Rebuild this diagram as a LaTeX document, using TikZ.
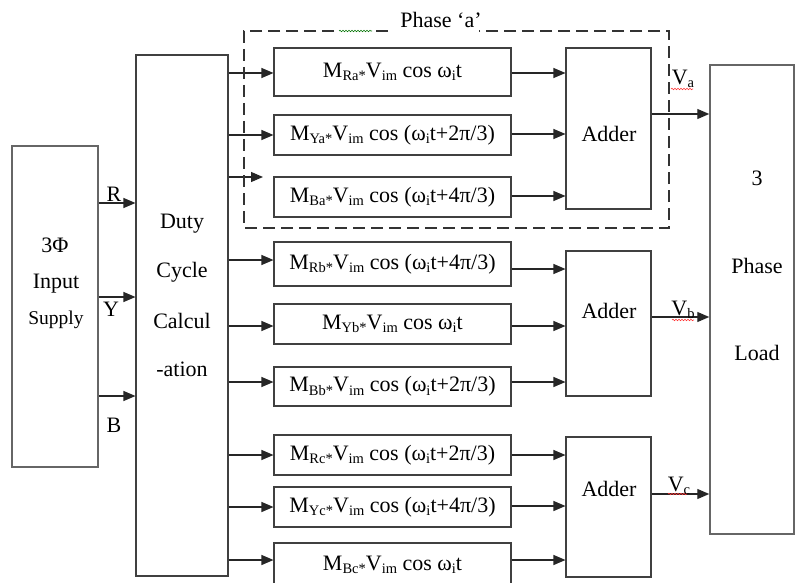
\documentclass[tikz,border=0pt]{standalone}
\usepackage{fontspec}
\setmainfont{Liberation Serif}
\usetikzlibrary{arrows.meta,decorations.pathmorphing}

% lowered, smaller text for indices
\newcommand\lo[1]{\raisebox{-3.7pt}{\fontsize{14.5}{14.5}\selectfont #1}}

\tikzset{
  blk/.style={draw=black!75, line width=1.1pt, inner sep=0pt, fill=white,
    font=\fontsize{22}{22}\selectfont},
  bigblk/.style={blk, draw=black!60, line width=1.5pt},
  frm/.style={blk, minimum width=237pt},
  addblk/.style={blk, minimum width=85pt},
  arr/.style={draw=black!85, line width=1.2pt, -{Triangle[length=12pt,width=10pt]}},
  lbl/.style={inner sep=0pt, font=\fontsize{22}{22}\selectfont},
  spell/.style={decorate, decoration={snake, amplitude=0.7pt, segment length=3pt}, line width=0.6pt},
  phasebox/.style={draw=black!80, line width=1.1pt, dash pattern=on 12pt off 6pt}
}

\begin{document}
\begin{tikzpicture}[x=1pt,y=-1pt]
\useasboundingbox (0,0) rectangle (795,583);
\clip (0,0) rectangle (795,583);
\fill[white] (0,0) rectangle (795,583);

% source, duty-cycle block and load
\node[bigblk, minimum width=86pt, minimum height=321pt] (inp) at (55,306.5) {};
\node[blk, minimum width=92pt, minimum height=521pt] (duty) at (182,315.5) {};
\node[bigblk, minimum width=84pt, minimum height=469pt] (load) at (752,299.5) {};

\node[lbl] (t3phi) at (55,245) {3Φ};
\node[lbl] (tinput) at (56,284) {Input};
\node[lbl, font=\fontsize{19.5}{19.5}\selectfont] (tsupply) at (56,320) {Supply};

\node[lbl] (tduty) at (182,224) {Duty};
\node[lbl] (tcycle) at (182,272) {Cycle};
\node[lbl] (tcalc) at (182,321) {Calcul};
\node[lbl] (tation) at (182,369) {-ation};

\node[lbl] (tl3) at (757,178) {3};
\node[lbl] (tlphase) at (757,266) {Phase};
\node[lbl] (tlload) at (757,353) {Load};

% modulated reference blocks
\node[frm, minimum height=48pt] (fa1) at (392.5,72) {M\lo{Ra*}V\lo{im} cos ω\lo{i}t};
\node[frm, minimum height=40pt] (fa2) at (392.5,135) {M\lo{Ya*}V\lo{im} cos (ω\lo{i}t+2π/3)};
\node[frm, minimum height=40pt] (fa3) at (392.5,197) {M\lo{Ba*}V\lo{im} cos (ω\lo{i}t+4π/3)};
\node[frm, minimum height=44pt] (fb1) at (392.5,264) {M\lo{Rb*}V\lo{im} cos (ω\lo{i}t+4π/3)};
\node[frm, minimum height=40pt] (fb2) at (392.5,324) {M\lo{Yb*}V\lo{im} cos ω\lo{i}t};
\node[frm, minimum height=39pt] (fb3) at (392.5,386.5) {M\lo{Bb*}V\lo{im} cos (ω\lo{i}t+2π/3)};
\node[frm, minimum height=40pt] (fc1) at (392.5,455) {M\lo{Rc*}V\lo{im} cos (ω\lo{i}t+2π/3)};
\node[frm, minimum height=40pt] (fc2) at (392.5,507) {M\lo{Yc*}V\lo{im} cos (ω\lo{i}t+4π/3)};
\node[frm, minimum height=47pt] (fc3) at (392.5,566.5) {};
\node[lbl] (tfc3) at (392.5,565) {M\lo{Bc*}V\lo{im} cos ω\lo{i}t};

% adders
\node[addblk, minimum height=161pt] (adA) at (608.5,128.5) {};
\node[addblk, minimum height=145pt] (adB) at (608.5,323.5) {};
\node[addblk, minimum height=140pt] (adC) at (608.5,507) {};
\node[lbl] (tadA) at (609,134) {Adder};
\node[lbl] (tadB) at (609,311) {Adder};
\node[lbl] (tadC) at (609,489) {Adder};

% phase lines R, Y, B
\draw[arr] (inp.east |- 0,203) -- (duty.west |- 0,203);
\draw[arr] (inp.east |- 0,297) -- (duty.west |- 0,297);
\draw[arr] (inp.east |- 0,396) -- (duty.west |- 0,396);
\node[lbl] (tR) at (114,194) {R};
\node[lbl] (tY) at (111,309) {Y};
\node[lbl] (tB) at (114,425) {B};

% duty-cycle outputs
\coordinate (fa3in) at (263,177);
\draw[arr] (duty.east |- 0,73) -- (fa1.west |- 0,73);
\draw[arr] (duty.east |- 0,135) -- (fa2.west |- 0,135);
\draw[arr] (duty.east |- fa3in) -- (fa3in);
\draw[arr] (duty.east |- 0,260) -- (fb1.west |- 0,260);
\draw[arr] (duty.east |- 0,326) -- (fb2.west |- 0,326);
\draw[arr] (duty.east |- 0,382) -- (fb3.west |- 0,382);
\draw[arr] (duty.east |- 0,455) -- (fc1.west |- 0,455);
\draw[arr] (duty.east |- 0,507) -- (fc2.west |- 0,507);
\draw[arr] (duty.east |- 0,560) -- (fc3.west |- 0,560);

% into the adders
\draw[arr] (fa1.east |- 0,73) -- (adA.west |- 0,73);
\draw[arr] (fa2.east |- 0,134) -- (adA.west |- 0,134);
\draw[arr] (fa3.east |- 0,196) -- (adA.west |- 0,196);
\draw[arr] (fb1.east |- 0,269) -- (adB.west |- 0,269);
\draw[arr] (fb2.east |- 0,326) -- (adB.west |- 0,326);
\draw[arr] (fb3.east |- 0,382) -- (adB.west |- 0,382);
\draw[arr] (fc1.east |- 0,455) -- (adC.west |- 0,455);
\draw[arr] (fc2.east |- 0,506) -- (adC.west |- 0,506);
\draw[arr] (fc3.east |- 0,560) -- (adC.west |- 0,560);

% phase voltages to the load
\draw[arr] (adA.east |- 0,114) -- (load.west |- 0,114);
\draw[arr] (adB.east |- 0,317) -- (load.west |- 0,317);
\draw[arr] (adC.east |- 0,494) -- (load.west |- 0,494);
\node[lbl] (tVa) at (683,79) {V\lo{a}};
\node[lbl] (tVb) at (683,310) {V\lo{b}};
\node[lbl] (tVc) at (679,486) {V\lo{c}};
\draw[spell, red!80] (671,89) -- (693,89);
\draw[spell, red!80] (672,320) -- (694,320);
\draw[spell, red!80] (668,494) -- (687,494);

% phase 'a' group
\draw[phasebox] (388,31) -- (244,31) -- (244,228) -- (669,228) -- (669,31) -- (479,31);
\fill[white] (339,28) rectangle (372,34);
\draw[spell, green!45!black] (339,31) -- (372,31);
\node[lbl] (tphase) at (441,20) {Phase ‘a’};
\end{tikzpicture}
\end{document}
